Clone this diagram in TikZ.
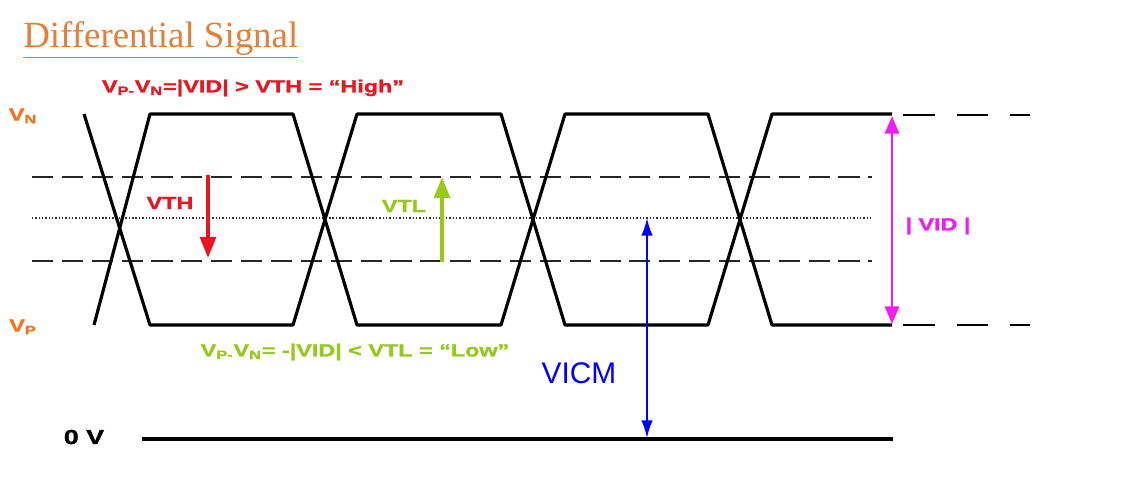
\documentclass[tikz,border=0pt]{standalone}
\usepackage{fontspec}
\setmainfont{Liberation Serif}
\setsansfont{Liberation Sans}
\newfontfamily\widesans[FakeStretch=1.33, FakeBold=1.6]{Liberation Sans}
\usetikzlibrary{arrows.meta}
\definecolor{titleorange}{RGB}{226,128,58}
\definecolor{railorange}{RGB}{238,118,30}
\definecolor{highred}{RGB}{232,22,34}
\definecolor{lowgreen}{RGB}{150,200,30}
\definecolor{vidpink}{RGB}{238,30,238}

\begin{document}
\begin{tikzpicture}[
  x=0.02cm, y=-0.02cm,
  every node/.style={inner sep=0pt},
  sigline/.style={line width=1.8pt, line join=round},
  thrline/.style={black!85, line width=1.2pt, dash pattern=on 12pt off 5pt},
  extline/.style={line width=1.5pt, dash pattern=on 18pt off 12.5pt},
  midline/.style={black!80, line width=0.6pt, dash pattern=on 0.8pt off 1.1pt},
  boldlbl/.style={font=\widesans\bfseries\fontsize{10}{12}\selectfont},
  thrarrow/.style={-{Triangle[length=12pt, width=9pt]}, line width=2pt},
  spanarrow/.style={{Latex[length=10pt, width=6.5pt]}-{Latex[length=10pt, width=6.5pt]}}
]
\useasboundingbox (0,0) rectangle (1125,487);

% Title and the two condition texts.
\node[anchor=west, titleorange, font=\fontsize{21}{24}\selectfont] (title) at (23,40)
  {\underline{Differential Signal}};
\node[boldlbl, highred] (high) at (253,88)
  {V\textsubscript{P-}V\textsubscript{N}=|VID| > VTH = “High”};
\node[boldlbl, lowgreen] (low) at (355,352)
  {V\textsubscript{P-}V\textsubscript{N}= -|VID| < VTL = “Low”};

% Rail names.
\node[boldlbl, railorange] (vn) at (23,116) {V\textsubscript{N}};
\node[boldlbl, railorange] (vp) at (23,327) {V\textsubscript{P}};
\node[boldlbl, font=\widesans\bfseries\fontsize{11.5}{13}\selectfont] (zero) at (84,437) {0 V};

% Threshold and common-mode levels.
\draw[thrline] (32,177) -- (872,177);
\draw[thrline] (32,261) -- (872,261);
\draw[midline] (32,218) -- (872,218);
\draw[line width=1.8pt] (142,439) -- (893,439);

% The two complementary signals.
\draw[sigline] (84,114) -- (150,325) -- (293,325) -- (357,114) -- (501,114)
  -- (565,325) -- (708,325) -- (772,114) -- (892,114);
\draw[sigline] (94,325) -- (150,114) -- (293,114) -- (357,325) -- (501,325)
  -- (565,114) -- (708,114) -- (772,325) -- (892,325);
\draw[extline] (903,115) -- (1030,115);
\draw[extline] (903,325) -- (1030,325);

% VTH and VTL arrows.
\coordinate (vthtop) at (208,175);
\coordinate (vthbot) at (208,258);
\draw[thrarrow, highred] (vthtop) -- (vthbot);
\node[boldlbl, highred] (vth) at (170,203) {VTH};

\coordinate (vtlbot) at (442,262);
\coordinate (vtltop) at (442,177);
\draw[thrarrow, lowgreen] (vtlbot) -- (vtltop);
\node[boldlbl, lowgreen] (vtl) at (404,206) {VTL};

% Common-mode voltage.
\coordinate (cmtop) at (647,218);
\coordinate (cmbot) at (647,438);
\draw[spanarrow, blue, line width=1pt] (cmtop) -- (cmbot);
\node[blue, font=\sffamily\fontsize{17}{20}\selectfont] (vicm) at (579,373) {VICM};

% Differential swing.
\coordinate (vidtop) at (892,116);
\coordinate (vidbot) at (892,324);
\draw[{Triangle[length=10pt, width=8pt]}-{Triangle[length=10pt, width=8pt]},
  vidpink, line width=1.5pt] (vidtop) -- (vidbot);
\node[boldlbl, vidpink] (vid) at (938,226) {| VID |};
\end{tikzpicture}
\end{document}
